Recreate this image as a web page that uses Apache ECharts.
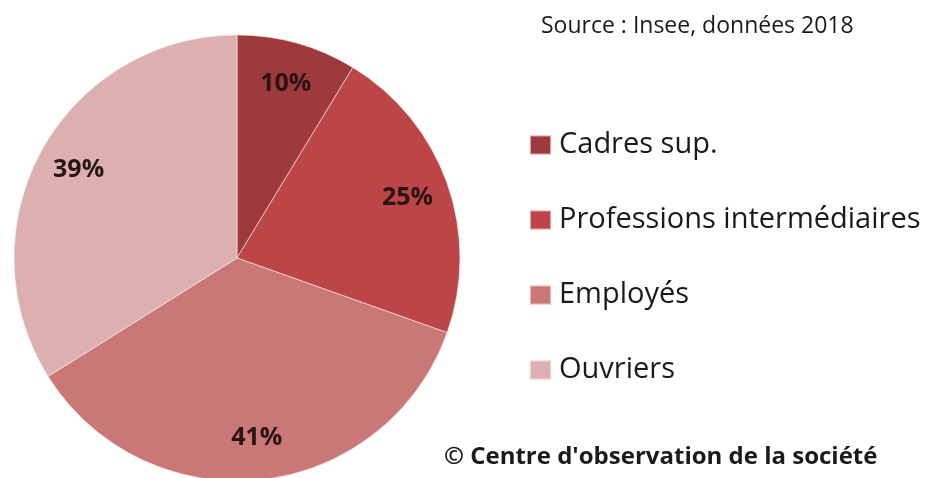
<!DOCTYPE html>
<html>
<head>
<meta charset="utf-8">
<script src="https://cdn.jsdelivr.net/npm/echarts@6/dist/echarts.min.js"></script>
<style>
  html, body { margin: 0; padding: 0; background: #ffffff; }
  #chart { width: 944px; height: 478px; }
</style>
</head>
<body>
<div id="chart"></div>
<script>
// Catégories socioprofessionnelles et parts (en %)
const categories = ['Cadres sup.', 'Professions intermédiaires', 'Employés', 'Ouvriers'];
const values = [10, 25, 41, 39];
const colors = ['#9e3a3b', '#bb4547', '#c97777', '#dcb0b1'];

const sourceText = 'Source : Insee, données 2018';
const creditText = '© Centre d\'observation de la société';

const chart = echarts.init(document.getElementById('chart'), null, { renderer: 'canvas' });

const sliceData = categories.map((name, i) => ({
  name: name,
  value: values[i],
  itemStyle: { color: colors[i] }
}));

const labelData = categories.map((name, i) => ({
  name: name,
  value: values[i]
}));

const FONT = '"Open Sans", "DejaVu Sans", sans-serif';

chart.setOption({
  animation: false,
  backgroundColor: '#ffffff',
  title: [
    {
      text: sourceText,
      left: 541,
      top: 15,
      padding: 0,
      textStyle: { fontFamily: FONT, fontSize: 23, fontWeight: 'normal', color: '#1a1a1a' }
    },
    {
      text: creditText,
      left: 444,
      top: 445,
      padding: 0,
      textStyle: { fontFamily: FONT, fontSize: 24, fontWeight: 'bold', color: '#1a1a1a' }
    }
  ],
  legend: {
    orient: 'vertical',
    left: 529,
    top: 130,
    padding: 0,
    itemWidth: 21,
    itemHeight: 19,
    itemGap: 45,
    icon: 'rect',
    selectedMode: false,
    data: categories,
    textStyle: {
      fontFamily: FONT,
      fontSize: 29,
      lineHeight: 30,
      color: '#1a1a1a',
      padding: [0, 0, 0, 3]
    }
  },
  series: [
    {
      type: 'pie',
      center: [237, 258],
      radius: [0, 223],
      startAngle: 90,
      clockwise: true,
      silent: true,
      label: { show: false },
      labelLine: { show: false },
      itemStyle: { borderColor: 'rgba(255,235,235,0.6)', borderWidth: 1 },
      data: sliceData
    },
    {
      // anneau transparent servant à placer les étiquettes de pourcentage
      type: 'pie',
      center: [237, 258],
      radius: [130, 226],
      startAngle: 90,
      clockwise: true,
      silent: true,
      legendHoverLink: false,
      itemStyle: { color: 'rgba(0,0,0,0)' },
      label: {
        show: true,
        position: 'inside',
        formatter: '{c}%',
        fontFamily: FONT,
        fontSize: 25,
        fontWeight: 'bold',
        color: '#2a1414'
      },
      labelLine: { show: false },
      data: labelData
    }
  ]
});
</script>
</body>
</html>
